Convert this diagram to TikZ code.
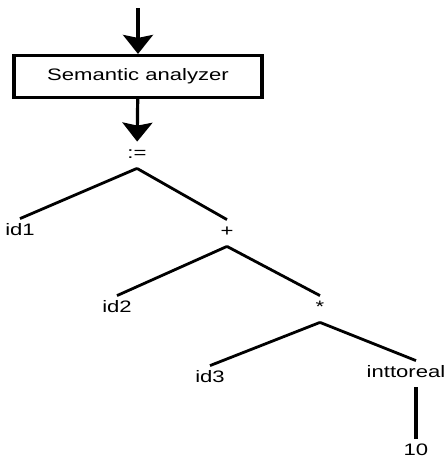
\documentclass[tikz,border=0pt]{standalone}
\usepackage{fontspec}
\setmainfont{Liberation Sans}[FakeStretch=1.33]
\usetikzlibrary{arrows.meta,positioning}

\begin{document}
\begin{tikzpicture}[x=0.5pt,y=-0.5pt,
    >={Stealth[width=15pt,length=9.5pt,inset=1.5pt]},
    font=\fontsize{8.3pt}{10pt}\selectfont,
    lbl/.style={inner sep=0pt,text height=8pt,text depth=5pt,anchor=base},
    edge/.style={line width=1.4pt}]
    \useasboundingbox (0,0) rectangle (447,457);

    \coordinate (in) at (138,8);
    \node (SA) [draw,line width=1.6pt,minimum width=124pt,minimum height=21pt] at (138,76.5) {Semantic analyzer};

    \node (asg) [lbl] at (137,158) {:=};
    \node (idA) [lbl] at (20,235) {id1};
    \node (plus) [lbl] at (227,236) {+};
    \node (idB) [lbl] at (117,312) {id2};
    \node (times) [lbl] at (320,312) {*};
    \node (idC) [lbl] at (210,382) {id3};
    \node (itr) [lbl] at (406,377) {inttoreal};
    \node (ten) [lbl] at (416,455) {10};

    \draw[->,line width=1.6pt] (in) -- (SA);
    \draw[->,line width=1.6pt] (SA) -- (asg);

    \draw[edge] (asg.south) -- (idA.north);
    \draw[edge] (asg.south) -- (plus.north);
    \draw[edge] (plus.south) -- (idB.north);
    \draw[edge] (plus.south) -- (times.north);
    \draw[edge] (times.south) -- (idC.north);
    \draw[edge] (times.south) -- (ten |- itr.north);
    \draw[line width=2.2pt] (ten |- itr.south) -- (ten.north);
\end{tikzpicture}
\end{document}
